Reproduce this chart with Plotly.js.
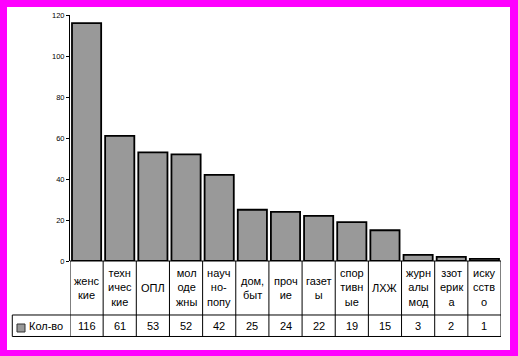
<!DOCTYPE html>
<html>
<head>
<meta charset="utf-8">
<script src="https://cdn.plot.ly/plotly-3.0.1.min.js"></script>
<style>
html,body{margin:0;padding:0;background:#ff00ff;width:518px;height:356px;overflow:hidden;}
#chart{position:absolute;left:7px;top:7px;width:503px;height:343px;background:#fff;}
</style>
</head>
<body>
<div id="chart"></div>
<script>
const categoryLabels = ["женс<br>кие","техн<br>ичес<br>кие","ОПЛ","мол<br>оде<br>жны","науч<br>но-<br>попу","дом,<br>быт","проч<br>ие","газет<br>ы","спор<br>тивн<br>ые","ЛХЖ","журн<br>алы<br>мод","ззот<br>ерик<br>а","иску<br>сств<br>о"];
const values = [116,61,53,52,42,25,24,22,19,15,3,2,1];
const seriesName = "Кол-во";
const yTicks = [0,20,40,60,80,100,120];

const n = categoryLabels.length;
const idx = categoryLabels.map((_, i) => i);

// table geometry (paper units relative to plot area)
const row1Bottom = -0.2195;
const row2Bottom = -0.3069;
const legendLeft = -0.1339;
const font = "Arial, 'Liberation Sans', sans-serif";

const shapes = [];
const line = {color: "#000", width: 1};
shapes.push({type:"line", xref:"paper", yref:"paper", x0:0, x1:1, y0:0, y1:0, line});
shapes.push({type:"line", xref:"paper", yref:"paper", x0:legendLeft, x1:1, y0:row1Bottom, y1:row1Bottom, line});
shapes.push({type:"line", xref:"paper", yref:"paper", x0:legendLeft, x1:1, y0:row2Bottom, y1:row2Bottom, line});
for (let k = 0; k <= n; k++) {
  shapes.push({type:"line", xref:"x", yref:"paper", x0:k-0.5, x1:k-0.5, y0:0, y1:row2Bottom, line});
}
shapes.push({type:"line", xref:"paper", yref:"paper", x0:legendLeft, x1:legendLeft, y0:row1Bottom, y1:row2Bottom, line});
shapes.push({type:"rect", xref:"paper", yref:"paper", x0:-0.1230, x1:-0.1044, y0:-0.2561, y1:-0.2886,
  fillcolor:"#999999", line:{color:"#333", width:1}});

const annotations = [];
idx.forEach(i => {
  annotations.push({xref:"x", yref:"paper", x:i, y:row1Bottom/2, text:categoryLabels[i],
    showarrow:false, xanchor:"center", yanchor:"middle", align:"center",
    font:{family:font, size:11, color:"#000"}});
  annotations.push({xref:"x", yref:"paper", x:i, y:(row1Bottom+row2Bottom)/2, text:String(values[i]),
    showarrow:false, xanchor:"center", yanchor:"middle",
    font:{family:font, size:11, color:"#000"}});
});
annotations.push({xref:"paper", yref:"paper", x:-0.1000, y:(row1Bottom+row2Bottom)/2, text:seriesName,
  showarrow:false, xanchor:"left", yanchor:"middle",
  font:{family:font, size:11, color:"#000"}});

const trace = {
  type:"bar", x:idx, y:values, name:seriesName,
  marker:{color:"#999999", line:{color:"#000", width:1.8}},
  hoverinfo:"none"
};

const layout = {
  width:503, height:343,
  margin:{l:63, r:9, t:8, b:89, pad:0},
  paper_bgcolor:"#ffffff", plot_bgcolor:"rgba(0,0,0,0)",
  showlegend:false,
  bargap:0.12,
  xaxis:{range:[-0.5, n-0.5], showticklabels:false, ticks:"", showgrid:false, zeroline:false, showline:false, fixedrange:true},
  yaxis:{range:[0,120], tickvals:yTicks, ticktext:yTicks.map(String), ticks:"outside", ticklen:3, tickwidth:1, tickcolor:"#000",
    showline:true, linecolor:"#000", linewidth:1, showgrid:false, zeroline:false,
    tickfont:{family:font, size:7.5, color:"#000"}, fixedrange:true},
  shapes, annotations,
  font:{family:font, color:"#000"}
};

Plotly.newPlot("chart", [trace], layout, {staticPlot:true, displayModeBar:false});
</script>
</body>
</html>
